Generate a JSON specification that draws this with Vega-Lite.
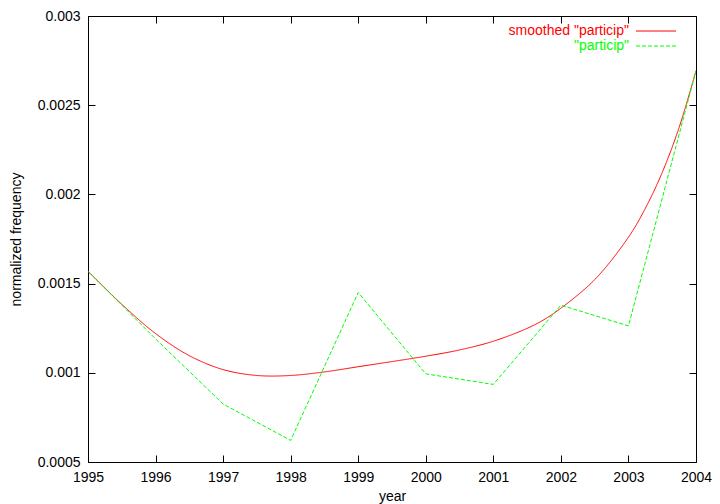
{
  "$schema": "https://vega.github.io/schema/vega-lite/v6.json",
  "width": 608,
  "height": 446,
  "autosize": {"type": "none"},
  "padding": {"left": 88, "top": 16, "right": 24, "bottom": 42},
  "background": "white",
  "config": {
    "font": "Liberation Sans",
    "view": {"stroke": "#000000", "strokeWidth": 1},
    "axis": {
      "grid": false,
      "domain": false,
      "ticks": true,
      "tickColor": "#000000",
      "tickSize": -7,
      "tickWidth": 1,
      "labelFont": "Liberation Sans",
      "labelFontSize": 14,
      "labelColor": "#000000",
      "titleFont": "Liberation Sans",
      "titleFontSize": 14,
      "titleFontWeight": "normal",
      "titleColor": "#000000"
    }
  },
  "data": {
    "values": [
      {"year": 1995.0, "value": 0.001569, "series": "smoothed \"particip\""},
      {"year": 1995.5, "value": 0.001384, "series": "smoothed \"particip\""},
      {"year": 1996.0, "value": 0.00122, "series": "smoothed \"particip\""},
      {"year": 1996.5, "value": 0.001096, "series": "smoothed \"particip\""},
      {"year": 1997.0, "value": 0.001018, "series": "smoothed \"particip\""},
      {"year": 1997.5, "value": 0.000985, "series": "smoothed \"particip\""},
      {"year": 1998.0, "value": 0.000985, "series": "smoothed \"particip\""},
      {"year": 1998.5, "value": 0.001005, "series": "smoothed \"particip\""},
      {"year": 1999.0, "value": 0.001034, "series": "smoothed \"particip\""},
      {"year": 1999.5, "value": 0.001063, "series": "smoothed \"particip\""},
      {"year": 2000.0, "value": 0.001093, "series": "smoothed \"particip\""},
      {"year": 2000.5, "value": 0.001128, "series": "smoothed \"particip\""},
      {"year": 2001.0, "value": 0.001177, "series": "smoothed \"particip\""},
      {"year": 2001.5, "value": 0.001249, "series": "smoothed \"particip\""},
      {"year": 2001.75, "value": 0.001298, "series": "smoothed \"particip\""},
      {"year": 2002.0, "value": 0.001362, "series": "smoothed \"particip\""},
      {"year": 2002.5, "value": 0.001522, "series": "smoothed \"particip\""},
      {"year": 2003.0, "value": 0.00176, "series": "smoothed \"particip\""},
      {"year": 2003.25, "value": 0.001922, "series": "smoothed \"particip\""},
      {"year": 2003.5, "value": 0.002123, "series": "smoothed \"particip\""},
      {"year": 2003.75, "value": 0.002375, "series": "smoothed \"particip\""},
      {"year": 2004.0, "value": 0.002693, "series": "smoothed \"particip\""},
      {"year": 1995, "value": 0.001569, "series": "\"particip\""},
      {"year": 1996, "value": 0.00119, "series": "\"particip\""},
      {"year": 1997, "value": 0.000825, "series": "\"particip\""},
      {"year": 1998, "value": 0.000621, "series": "\"particip\""},
      {"year": 1999, "value": 0.00145, "series": "\"particip\""},
      {"year": 2000, "value": 0.000994, "series": "\"particip\""},
      {"year": 2001, "value": 0.000935, "series": "\"particip\""},
      {"year": 2002, "value": 0.001379, "series": "\"particip\""},
      {"year": 2003, "value": 0.001263, "series": "\"particip\""},
      {"year": 2004, "value": 0.002693, "series": "\"particip\""}
    ]
  },
  "layer": [
    {
      "transform": [{"filter": {"field": "series", "equal": "smoothed \"particip\""}}],
      "mark": {"type": "line", "interpolate": "catmull-rom", "strokeWidth": 1, "clip": true},
      "encoding": {
        "x": {
          "field": "year", "type": "quantitative",
          "scale": {"domain": [1995, 2004], "nice": false, "zero": false},
          "axis": {"orient": "bottom", "values": [1995, 1996, 1997, 1998, 1999, 2000, 2001, 2002, 2003, 2004], "format": "d", "labelPadding": 15, "title": "year", "titleY": 34, "titleBaseline": "middle", "labelFlush": false}
        },
        "y": {
          "field": "value", "type": "quantitative",
          "scale": {"domain": [0.0005, 0.003], "nice": false, "zero": false},
          "axis": {"orient": "left", "values": [0.0005, 0.001, 0.0015, 0.002, 0.0025, 0.003], "format": "~g", "labelPadding": 15, "title": "normalized frequency", "titleX": -72, "titleY": 223, "titleAngle": -90, "titleAlign": "center", "titleBaseline": "middle", "labelFlush": false}
        },
        "color": {
          "field": "series", "type": "nominal",
          "scale": {"domain": ["smoothed \"particip\"", "\"particip\""], "range": ["#ff0000", "#00ff00"]},
          "legend": {
            "title": null,
            "orient": "none",
            "legendX": 561,
            "legendY": 8,
            "symbolType": "M-5,0H5",
            "symbolSize": 64,
            "symbolStrokeWidth": 1,
            "symbolFillColor": "transparent",
            "labelAlign": "right",
            "labelOffset": -34,
            "labelFontSize": 14,
            "labelFont": "Liberation Sans",
            "rowPadding": 1,
            "encode": {"labels": {"update": {"fill": {"signal": "indexof(datum.label, 'smoothed') >= 0 ? '#ff0000' : '#00ff00'"}}}}
          }
        },
        "strokeDash": {
          "field": "series", "type": "nominal",
          "scale": {"domain": ["smoothed \"particip\"", "\"particip\""], "range": [[1, 0], [4, 2]]},
          "legend": null
        }
      }
    },
    {
      "transform": [{"filter": {"field": "series", "equal": "\"particip\""}}],
      "mark": {"type": "line", "interpolate": "linear", "strokeWidth": 1, "clip": true},
      "encoding": {
        "x": {
          "field": "year", "type": "quantitative",
          "axis": {"orient": "top", "values": [1995, 1996, 1997, 1998, 1999, 2000, 2001, 2002, 2003, 2004], "labels": false, "title": null}
        },
        "y": {
          "field": "value", "type": "quantitative",
          "axis": {"orient": "right", "values": [0.0005, 0.001, 0.0015, 0.002, 0.0025, 0.003], "labels": false, "title": null}
        },
        "color": {"field": "series", "type": "nominal"},
        "strokeDash": {"field": "series", "type": "nominal", "legend": null}
      }
    }
  ],
  "resolve": {"axis": {"x": "independent", "y": "independent"}}
}
